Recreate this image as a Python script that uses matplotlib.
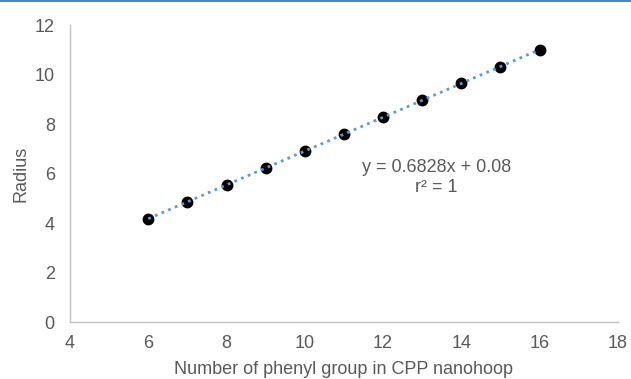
import numpy as np
import matplotlib
matplotlib.use('Agg')
import matplotlib.pyplot as plt

plt.rcParams['font.family'] = ['Liberation Sans', 'DejaVu Sans']

# data
n_phenyl = [6, 7, 8, 9, 10, 11, 12, 13, 14, 15, 16]
radius = [4.18, 4.86, 5.54, 6.23, 6.91, 7.59, 8.27, 8.96, 9.64, 10.32, 11.0]
slope = 0.6828
intercept = 0.08

grey = '#595959'

fig = plt.figure(figsize=(6.31, 3.79), dpi=100)
ax = fig.add_axes([0.111, 0.150, 0.868, 0.784])

ax.plot(n_phenyl, radius, 'o', color='black', markersize=7.5, zorder=2)
fit_x = np.array([n_phenyl[0], n_phenyl[-1]])
ax.plot(fit_x, slope * fit_x + intercept, linestyle=(0, (1, 1.6)),
        color='#5b9bd5', linewidth=2, zorder=3)

ax.text(13.36, 6.25, 'y = 0.6828x + 0.08', ha='center', va='center',
        fontsize=13, color=grey)
ax.text(13.36, 5.42, 'r² = 1', ha='center', va='center',
        fontsize=13, color=grey)

ax.set_xlim(4, 18)
ax.set_ylim(0, 12)
ax.set_xticks(range(4, 19, 2))
ax.set_yticks(range(0, 13, 2))
ax.tick_params(length=0, labelsize=13, colors=grey)
ax.tick_params(axis='x', pad=9)
ax.tick_params(axis='y', pad=11)
for s in ['top', 'right']:
    ax.spines[s].set_visible(False)
for s in ['left', 'bottom']:
    ax.spines[s].set_color('#bfbfbf')
    ax.spines[s].set_linewidth(1)

ax.set_xlabel('Number of phenyl group in CPP nanohoop', fontsize=13, color=grey, labelpad=7)
ax.set_ylabel('Radius', fontsize=13, color=grey, labelpad=4)

# thin blue frame line at the top of the image
fig.add_artist(plt.Line2D([0, 1], [0.998, 0.998], color='#4a86c5', linewidth=1.5))

fig.savefig('out.png', dpi=100)
